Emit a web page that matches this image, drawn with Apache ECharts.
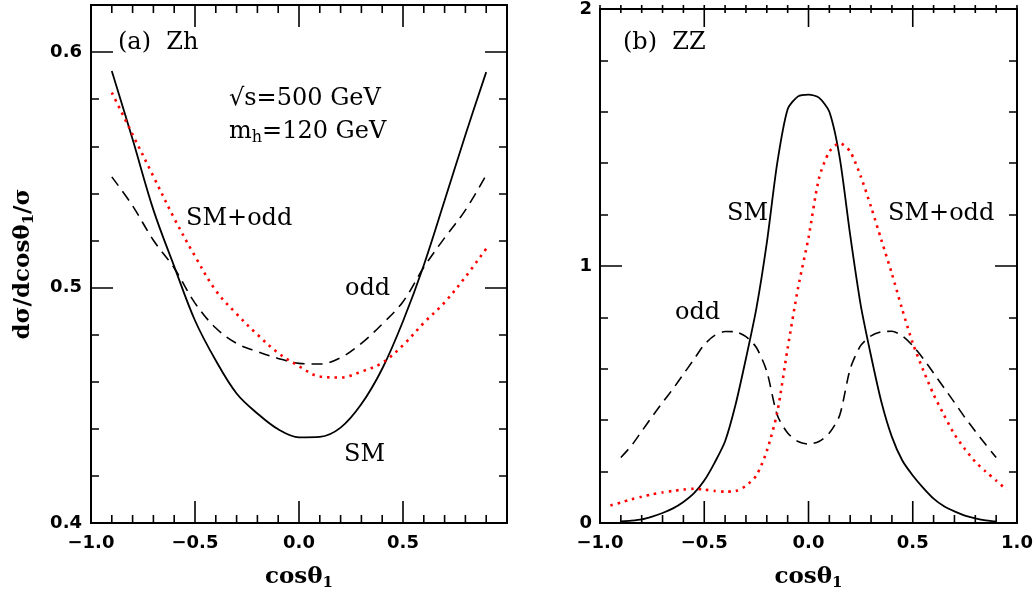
<!DOCTYPE html>
<html><head><meta charset="utf-8">
<script src="https://cdn.jsdelivr.net/npm/echarts@6/dist/echarts.min.js"></script>
<style>html,body{margin:0;padding:0;background:#fff}#c{width:1036px;height:596px}</style>
</head><body><div id="c"></div>
<script>
// ---- Panel (a) Zh ----
const zhX   = [-0.9,-0.8,-0.7,-0.6,-0.5,-0.4,-0.3,-0.2,-0.1,0.0,0.1,0.2,0.3,0.4,0.5,0.6,0.7,0.8,0.9];
const zhSM  = [0.592,0.563,0.533,0.509,0.486,0.469,0.455,0.4465,0.4398,0.4364,0.4366,0.4405,0.4505,0.4655,0.4857,0.5095,0.537,0.5648,0.5915];
const zhOdd = [0.547,0.5347,0.5201,0.5083,0.4934,0.4828,0.4763,0.4728,0.4699,0.4678,0.4675,0.4702,0.4763,0.4845,0.494,0.5086,0.5211,0.5329,0.5478];
const zhMix = [0.5828,0.565,0.5472,0.5294,0.5133,0.4987,0.4888,0.48,0.4722,0.4666,0.4622,0.4618,0.4643,0.468,0.4755,0.485,0.4937,0.5045,0.5165];

// ---- Panel (b) ZZ ----
const zzX   = [-0.9,-0.85,-0.8,-0.75,-0.7,-0.65,-0.6,-0.55,-0.5,-0.45,-0.4,-0.35,-0.3,-0.25,-0.2,-0.15,-0.1,-0.05,0.0,
               0.05,0.1,0.15,0.2,0.25,0.3,0.35,0.4,0.45,0.5,0.55,0.6,0.65,0.7,0.75,0.8,0.85,0.9];
const zzSM  = [0.006,0.009,0.014,0.025,0.039,0.057,0.082,0.115,0.165,0.235,0.318,0.46,0.64,0.835,1.09,1.40,1.61,1.66,1.667,
               1.655,1.60,1.42,1.12,0.85,0.65,0.47,0.335,0.243,0.185,0.137,0.095,0.065,0.045,0.029,0.018,0.010,0.006];
const zzOdd = [0.255,0.30,0.357,0.414,0.469,0.522,0.579,0.636,0.694,0.73,0.745,0.744,0.725,0.683,0.59,0.42,0.35,0.317,0.307,
               0.317,0.35,0.42,0.60,0.69,0.728,0.744,0.746,0.728,0.69,0.64,0.583,0.526,0.469,0.411,0.357,0.305,0.255];
const zzMixX = [-0.95,-0.9,-0.85,-0.8,-0.75,-0.7,-0.65,-0.6,-0.55,-0.5,-0.45,-0.4,-0.35,-0.3,-0.25,-0.2,-0.15,-0.1,-0.05,0.0,
                0.05,0.1,0.15,0.2,0.25,0.3,0.35,0.4,0.45,0.5,0.55,0.6,0.65,0.7,0.75,0.8,0.85,0.9,0.95];
const zzMix = [0.068,0.080,0.092,0.102,0.112,0.119,0.125,0.130,0.133,0.130,0.125,0.122,0.124,0.145,0.185,0.28,0.43,0.68,0.915,1.11,
               1.34,1.445,1.478,1.445,1.35,1.23,1.10,0.97,0.83,0.70,0.595,0.50,0.42,0.345,0.288,0.238,0.200,0.165,0.129];

// tick positions and labels
const xTickPos = [-1.0,-0.9,-0.8,-0.7,-0.6,-0.5,-0.4,-0.3,-0.2,-0.1,0.0,0.1,0.2,0.3,0.4,0.5,0.6,0.7,0.8,0.9,1.0];
const xMajorPos = [-1.0,-0.5,0.0,0.5,1.0];
const xTickLabelsA = ['−1.0','−0.5','0.0','0.5'];
const xTickLabelsB = ['−1.0','−0.5','0.0','0.5','1.0'];
const yTickLabelsA = ['0.4','0.5','0.6'];
const yTickLabelsB = ['0','1','2'];

const TF = 'DejaVu Sans';
const SF = 'DejaVu Serif';
const BLACK = '#000';
const RED = '#ff0000';
const TICK = {color: BLACK, width: 1.5};
const GRIDS = [{left: 91, top: 5, width: 416, height: 518}, {left: 600, top: 5, width: 417, height: 518}];

function xFmt(list){ return v => { const i = Math.round((v + 1) / 0.5); return list[i] !== undefined ? list[i] : ''; }; }

const subRich = {
  a: {fontFamily: SF, fontWeight: 'bold', fontSize: 23, color: BLACK, lineHeight: 28},
  s: {fontFamily: SF, fontWeight: 'bold', fontSize: 15, color: BLACK, lineHeight: 10, verticalAlign: 'bottom'}
};

function xMain(grid, pos, labels){
  const o = {
    gridIndex: grid, type: 'value', position: pos, min: -1, max: 1, interval: 0.5,
    axisLine: {show: true, onZero: false, lineStyle: {color: BLACK, width: 2}},
    axisTick: {show: false}, minorTick: {show: false},
    splitLine: {show: false}, minorSplitLine: {show: false},
    axisLabel: labels ? {show: true, margin: 11, color: BLACK, fontFamily: TF, fontWeight: 'bold', fontSize: 18,
      formatter: xFmt(labels), showMinLabel: true, showMaxLabel: true} : {show: false}
  };
  if (labels) Object.assign(o, {name: '{a|cosθ}{s|1}', nameLocation: 'middle', nameGap: 40, nameTextStyle: {rich: subRich}});
  return o;
}

function yAxA(pos, major, labels){
  return {
    gridIndex: 0, type: 'value', position: pos, min: 0.4, max: 0.62, interval: major ? 0.1 : 0.02,
    axisLine: {show: true, onZero: false, lineStyle: {color: BLACK, width: 2}},
    axisTick: {show: true, inside: true, length: major ? 22 : 8, lineStyle: TICK},
    splitLine: {show: false},
    axisLabel: labels ? {show: true, margin: 9, color: BLACK, fontFamily: TF, fontWeight: 'bold', fontSize: 18,
      formatter: v => { const i = Math.round((v - 0.4) / 0.1); return Math.abs(v - 0.4 - i * 0.1) < 1e-6 && yTickLabelsA[i] ? yTickLabelsA[i] : ''; },
      showMaxLabel: false} : {show: false}
  };
}
function yAxB(pos, labels){
  return {
    gridIndex: 1, type: 'value', position: pos, min: 0, max: 2, interval: 1,
    axisLine: {show: true, onZero: false, lineStyle: {color: BLACK, width: 2}},
    axisTick: {show: true, inside: true, length: 22, lineStyle: TICK},
    minorTick: {show: true, splitNumber: 5, length: 8, lineStyle: TICK},
    splitLine: {show: false}, minorSplitLine: {show: false},
    axisLabel: labels ? {show: true, margin: 8, color: BLACK, fontFamily: TF, fontWeight: 'bold', fontSize: 18,
      formatter: v => yTickLabelsB[Math.round(v)] || '', showMaxLabel: true} : {show: false}
  };
}
const yMainA = Object.assign(yAxA('left', true, true), {
  name: '{a|dσ/dcosθ}{s|1}{a|/σ}', nameLocation: 'middle', nameGap: 54, nameTextStyle: {rich: subRich}
});

const pair = (xs, ys) => xs.map((x, i) => [x, ys[i]]);
const solid = {color: BLACK, width: 1.8, type: 'solid'};
const dashed = {color: BLACK, width: 1.6, type: [11, 7]};
const dotted = {color: RED, width: 2.6, type: [2.5, 5]};
function ser(xi, yi, data, ls, smooth){
  return {type: 'line', xAxisIndex: xi, yAxisIndex: yi, data: data, symbol: 'none', showSymbol: false,
    smooth: smooth, lineStyle: ls, silent: true, z: 3};
}

const txt = {fontFamily: SF, fontSize: 24, color: BLACK, lineHeight: 28};
const sub = {fontFamily: SF, fontSize: 16, color: BLACK, lineHeight: 10, verticalAlign: 'bottom'};
function label(x, y, s){
  return {type: 'text', x: x, y: y, silent: true, z: 10,
    style: {text: s, align: 'left', verticalAlign: 'middle', rich: {t: txt, s: sub}, fill: BLACK}};
}
const labels = [
  label(118, 43, '{t|(a)  Zh}'),
  label(229, 99, '{t|√s=500 GeV}'),
  label(229, 132, '{t|m}{s|h}{t|=120 GeV}'),
  label(186, 219, '{t|SM+odd}'),
  label(345, 289, '{t|odd}'),
  label(344, 455, '{t|SM}'),
  label(623, 43, '{t|(b)  ZZ}'),
  label(727, 214, '{t|SM}'),
  label(888, 214, '{t|SM+odd}'),
  label(675, 313, '{t|odd}')
];

const chart = echarts.init(document.getElementById('c'), null, {renderer: 'canvas'});
chart.setOption({
  animation: false,
  backgroundColor: '#fff',
  grid: GRIDS,
  xAxis: [xMain(0, 'bottom', xTickLabelsA), xMain(0, 'top', null), xMain(1, 'bottom', xTickLabelsB), xMain(1, 'top', null)],
  yAxis: [yMainA, yAxA('left', false, false), yAxA('right', true, false), yAxA('right', false, false),
          yAxB('left', true), yAxB('right', false)],
  series: [
    ser(0, 0, pair(zhX, zhSM), solid, 0.35),
    ser(0, 0, pair(zhX, zhOdd), dashed, 0.35),
    ser(0, 0, pair(zhX, zhMix), dotted, 0.35),
    ser(2, 4, pair(zzX, zzSM), solid, 0.25),
    ser(2, 4, pair(zzX, zzOdd), dashed, 0.25),
    ser(2, 4, pair(zzMixX, zzMix), dotted, 0.25)
  ]
});

// x-axis tick marks on bottom and top edges (inward), positioned via the x scale of each grid
const ticks = [];
[[0, 0], [2, 1]].forEach(([xi, gi]) => {
  const g = GRIDS[gi];
  xTickPos.forEach(x => {
    const len = xMajorPos.some(m => Math.abs(m - x) < 1e-9) ? 22 : 8;
    let px = null;
    try { px = chart.convertToPixel({xAxisIndex: xi}, x); } catch (e) { px = null; }
    if (typeof px !== 'number' || !isFinite(px)) px = g.left + (x + 1) / 2 * g.width;
    const yb = g.top + g.height, yt = g.top;
    ticks.push({type: 'line', silent: true, z: 20, shape: {x1: px, y1: yb, x2: px, y2: yb - len}, style: {stroke: BLACK, lineWidth: 1.6}});
    ticks.push({type: 'line', silent: true, z: 20, shape: {x1: px, y1: yt, x2: px, y2: yt + len}, style: {stroke: BLACK, lineWidth: 1.6}});
  });
});

chart.setOption({graphic: labels.concat(ticks)});
</script></body></html>
